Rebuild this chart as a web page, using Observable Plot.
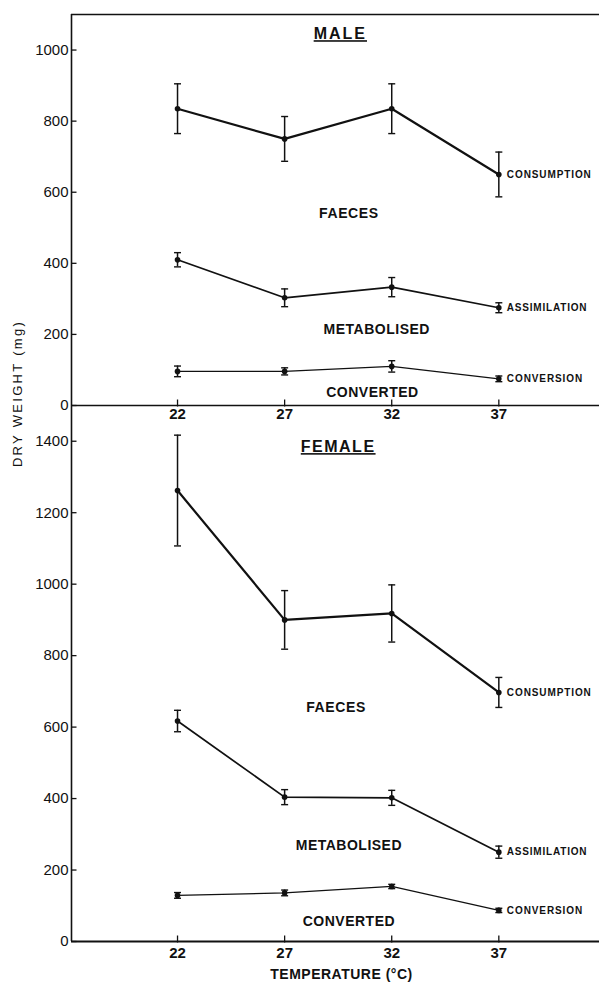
<!DOCTYPE html>
<html><head><meta charset="utf-8">
<script src="https://cdn.jsdelivr.net/npm/d3@7"></script>
<script src="https://cdn.jsdelivr.net/npm/@observablehq/plot@0.6"></script>
<style>
body{margin:0;background:#fff;}
#wrap{position:relative;width:599px;height:989px;overflow:hidden;background:#fff;}
#wrap svg{position:absolute;left:0;}
#wrap svg g[aria-label^="x-axis"] text{font-weight:bold;}
</style></head><body><div id="wrap"></div>
<script>
// ---- data ----
const temps = [22, 27, 32, 37];
const seriesNames = ["CONSUMPTION", "ASSIMILATION", "CONVERSION"];
const maleConsumption = [835, 750, 835, 650];
const maleConsumptionSE = [70, 63, 70, 63];
const maleAssimilation = [410, 303, 333, 275];
const maleAssimilationSE = [20, 25, 27, 14];
const maleConversion = [96, 96, 110, 75];
const maleConversionSE = [15, 10, 16, 8];
const femaleConsumption = [1262, 900, 918, 697];
const femaleConsumptionSE = [155, 82, 80, 42];
const femaleAssimilation = [617, 404, 402, 250];
const femaleAssimilationSE = [30, 21, 21, 17];
const femaleConversion = [129, 136, 154, 87];
const femaleConversionSE = [8, 8, 6, 6];
const maleYTicks = [0, 200, 400, 600, 800, 1000];
const femaleYTicks = [0, 200, 400, 600, 800, 1000, 1200, 1400];
const regionNames = ["FAECES", "METABOLISED", "CONVERTED"];
const maleRegionX = [30.0, 31.3, 31.1];
const maleRegionY = [541, 213, 36];
const femaleRegionX = [29.4, 30.0, 30.0];
const femaleRegionY = [654, 269, 56];
const panelTitles = ["MALE", "FEMALE"];
const titleX = [29.6, 29.5];
const titleY = [1045, 1384];
const xTitle = "TEMPERATURE (°C)";
const yTitle = "DRY WEIGHT (mg)";

// ---- helpers ----
const ink = "#111";
const xDomain = [17.05, 41.7];
const strokeWidths = [2.2, 1.7, 1.3];
const capSymbol = {draw(ctx, size){ const r = Math.sqrt(size/Math.PI); ctx.moveTo(-r,0); ctx.lineTo(r,0); }};
const tickRight = {draw(ctx, size){ const r = Math.sqrt(size/Math.PI); ctx.moveTo(0,0); ctx.lineTo(r,0); }};
const tickUp = {draw(ctx, size){ const r = Math.sqrt(size/Math.PI); ctx.moveTo(0,1); ctx.lineTo(0,-r); }};

function buildRows(vals, ses) {
  return seriesNames.flatMap((name, k) => temps.map((t, i) => ({
    name, k, temp: t, value: vals[k][i], lo: vals[k][i] - ses[k][i], hi: vals[k][i] + ses[k][i]
  })));
}

function panel(o) {
  const rows = buildRows(o.vals, o.ses);
  const regions = regionNames.map((n, i) => ({n, x: o.regionX[i], y: o.regionY[i]}));
  const marks = [
    Plot.ruleX([xDomain[0]], {y1: 0, y2: o.yDomain[1], stroke: ink, strokeWidth: 1.6}),
    Plot.ruleY([0], {stroke: ink, strokeWidth: o.axisWidth}),
    Plot.dot(o.yTicks, {x: () => xDomain[0], y: d => d, symbol: tickRight, r: 5, fill: "none", stroke: ink, strokeWidth: 1.3}),
    Plot.dot(temps, {x: d => d, y: () => 0, symbol: tickUp, r: 6, fill: "none", stroke: ink, strokeWidth: 1.3})
  ];
  if (o.topRule) marks.push(Plot.ruleY([o.yDomain[1]], {stroke: ink, strokeWidth: 1.6}));
  seriesNames.forEach((name, k) => {
    const sub = rows.filter(d => d.k === k);
    marks.push(
      Plot.line(sub, {x: "temp", y: "value", stroke: ink, strokeWidth: strokeWidths[k]}),
      Plot.ruleX(sub, {x: "temp", y1: "lo", y2: "hi", stroke: ink, strokeWidth: 1.5}),
      Plot.dot(sub, {x: "temp", y: "hi", symbol: capSymbol, r: 3.5, fill: "none", stroke: ink, strokeWidth: 1.4}),
      Plot.dot(sub, {x: "temp", y: "lo", symbol: capSymbol, r: 3.5, fill: "none", stroke: ink, strokeWidth: 1.4}),
      Plot.dot(sub, {x: "temp", y: "value", r: 2.8, fill: ink})
    );
  });
  marks.push(
    Plot.text(rows.filter(d => d.temp === temps[temps.length - 1]), {x: "temp", y: "value", text: "name", dx: 8, textAnchor: "start", fontSize: 10, fontWeight: "bold", fill: ink}),
    Plot.text(regions, {x: "x", y: "y", text: "n", fontSize: 14, fontWeight: "bold", fill: ink}),
    Plot.text([o.title], {x: () => o.tx, y: () => o.ty, text: d => d, fontSize: 16, fontWeight: "bold", fill: ink})
  );
  if (o.extra) marks.push(...o.extra);
  return Plot.plot({
    width: 599, height: o.height, marginTop: o.marginTop, marginBottom: o.marginBottom,
    marginLeft: 71, marginRight: 0,
    style: {background: "transparent", overflow: "visible", fontFamily: "Liberation Sans, Arial, sans-serif", fontSize: "15px", color: ink},
    x: {domain: xDomain, ticks: temps, tickSize: 0, tickPadding: o.xPad, label: null, tickFormat: d => String(d)},
    y: {domain: o.yDomain, ticks: o.yTicks, tickSize: 0, tickPadding: 3, label: null, tickFormat: d => String(d)},
    marks
  });
}

const wrapEl = document.getElementById("wrap");
const malePlot = panel({
  vals: [maleConsumption, maleAssimilation, maleConversion],
  ses: [maleConsumptionSE, maleAssimilationSE, maleConversionSE],
  regionX: maleRegionX, regionY: maleRegionY,
  title: panelTitles[0], tx: titleX[0], ty: titleY[0],
  yDomain: [0, 1100], yTicks: maleYTicks,
  height: 430, marginTop: 14, marginBottom: 25, xPad: 3, axisWidth: 1.3, topRule: true,
  extra: [Plot.text([yTitle], {frameAnchor: "bottom-left", dx: -50, dy: -12, rotate: -90, text: d => d, fontSize: 13, fill: ink, textAnchor: "middle"})]
});
malePlot.style.top = "0px";
const femalePlot = panel({
  vals: [femaleConsumption, femaleAssimilation, femaleConversion],
  ses: [femaleConsumptionSE, femaleAssimilationSE, femaleConversionSE],
  regionX: femaleRegionX, regionY: femaleRegionY,
  title: panelTitles[1], tx: titleX[1], ty: titleY[1],
  yDomain: [0, 1500], yTicks: femaleYTicks,
  height: 594, marginTop: 10, marginBottom: 48, xPad: 6, axisWidth: 2, topRule: false,
  extra: [Plot.text([xTitle], {frameAnchor: "bottom", dx: 6, dy: 37, text: d => d, fontSize: 14, fontWeight: "bold", fill: ink})]
});
femalePlot.style.top = "395px";
wrapEl.appendChild(malePlot);
wrapEl.appendChild(femalePlot);

// letter spacing / underline touches
const spacing = {"MALE": "2px", "FEMALE": "1.5px", "FAECES": "0.6px", "METABOLISED": "0.5px", "CONVERTED": "0.5px",
  "CONSUMPTION": "0.9px", "ASSIMILATION": "0.8px", "CONVERSION": "0.9px", [xTitle]: "0.5px", [yTitle]: "2.3px"};
[malePlot, femalePlot].forEach(svg => {
  d3.select(svg).selectAll("text").each(function() {
    const t = this.textContent;
    if (spacing[t]) this.style.letterSpacing = spacing[t];
    if (t === "MALE" || t === "FEMALE") this.style.textDecoration = "underline";
  });
});
</script>
</body></html>
